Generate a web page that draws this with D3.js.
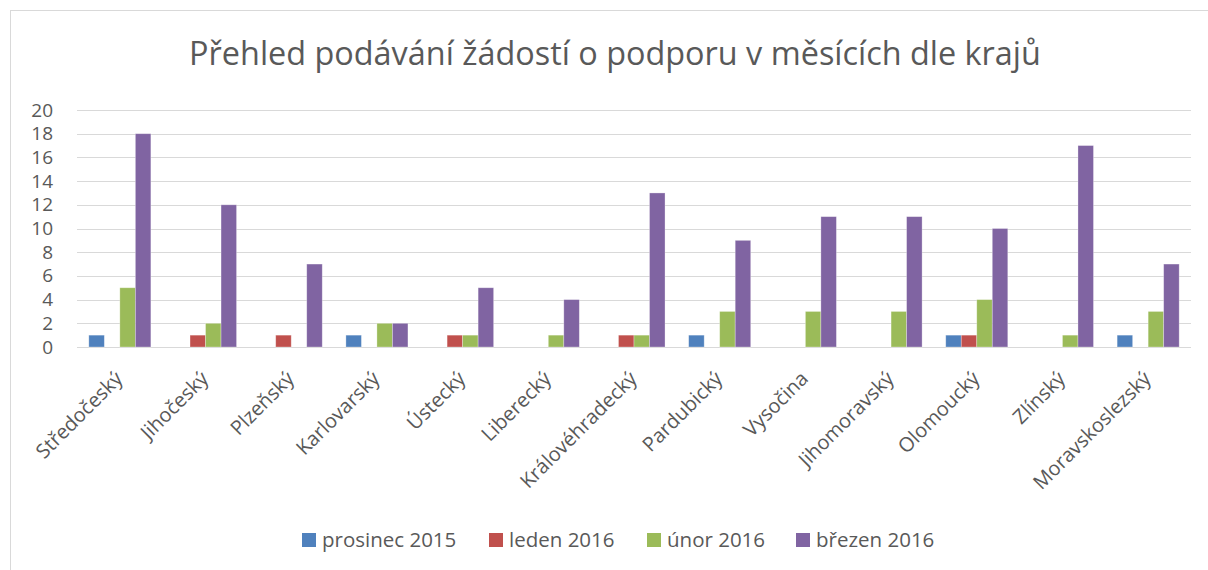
<!DOCTYPE html>
<meta charset="utf-8">
<style>
body { margin: 0; background: #fff; }
svg { display: block; }
text { font-family: "Open Sans", "Liberation Sans", sans-serif; fill: #595959; }
.grid line { stroke: #d9d9d9; stroke-width: 1px; }
</style>
<body>
<script src="https://d3js.org/d3.v7.min.js"></script>
<script>

var kraje = ["Středočeský", "Jihočeský", "Plzeňský", "Karlovarský", "Ústecký", "Liberecký",
  "Královéhradecký", "Pardubický", "Vysočina", "Jihomoravský", "Olomoucký", "Zlínský", "Moravskoslezský"];
var mesice = ["prosinec 2015", "leden 2016", "únor 2016", "březen 2016"];
var prosinec2015 = [1, 0, 0, 1, 0, 0, 0, 1, 0, 0, 1, 0, 1];
var leden2016    = [0, 1, 1, 0, 1, 0, 1, 0, 0, 0, 1, 0, 0];
var unor2016     = [5, 2, 0, 2, 1, 1, 1, 3, 3, 3, 4, 1, 3];
var brezen2016   = [18, 12, 7, 2, 5, 4, 13, 9, 11, 11, 10, 17, 7];
var yTicks = [0, 2, 4, 6, 8, 10, 12, 14, 16, 18, 20];

var series = [prosinec2015, leden2016, unor2016, brezen2016];
var colors = ["#4f81bd", "#c0504d", "#9bbb59", "#8064a2"];

var width = 1208, height = 570;
var plot = {left: 77, right: 1191, top: 110, bottom: 347};

var svg = d3.select("body").append("svg")
  .attr("width", width)
  .attr("height", height);

// chart frame (right and bottom edges fall outside the picture)
svg.append("rect")
  .attr("x", 10.5).attr("y", 10.5)
  .attr("width", width + 20).attr("height", height + 20)
  .attr("fill", "none").attr("stroke", "#d9d9d9");

svg.append("text")
  .attr("x", 615).attr("y", 65)
  .attr("text-anchor", "middle")
  .style("font-size", "32.4px")
  .text("Přehled podávání žádostí o podporu v měsících dle krajů");

var x = d3.scaleBand()
  .domain(kraje)
  .range([plot.left, plot.right])
  .paddingInner(0.276)
  .paddingOuter(0.138);

// bars touch each other inside a group
var x1 = d3.scaleBand()
  .domain(d3.range(series.length))
  .range([0, x.bandwidth()]);

var y = d3.scaleLinear()
  .domain([0, 20])
  .range([plot.bottom, plot.top]);

// gridlines
svg.append("g").attr("class", "grid")
  .selectAll("line")
  .data(yTicks)
  .enter().append("line")
  .attr("x1", plot.left).attr("x2", plot.right)
  .attr("y1", function(d) { return Math.round(y(d)) + 0.5; })
  .attr("y2", function(d) { return Math.round(y(d)) + 0.5; });

// y labels
var yAxis = svg.append("g")
  .attr("transform", "translate(" + (plot.left - 24) + ",0)")
  .call(d3.axisLeft(y).tickValues(yTicks).tickSize(0).tickPadding(0));
yAxis.select(".domain").remove();
yAxis.selectAll("text")
  .attr("fill", "#595959")
  .style("font-family", "\"Open Sans\", sans-serif")
  .style("font-size", "19px");

// bars
var groups = svg.append("g").selectAll("g")
  .data(series)
  .enter().append("g")
  .attr("fill", function(d, i) { return colors[i]; });

groups.each(function(vals, si) {
  var pts = vals.map(function(v, i) { return {kraj: kraje[i], v: v}; })
    .filter(function(d) { return d.v > 0; });
  d3.select(this).selectAll("rect")
    .data(pts)
    .enter().append("rect")
    .attr("x", function(d) { return x(d.kraj) + x1(si); })
    .attr("y", function(d) { return y(d.v); })
    .attr("width", x1.bandwidth())
    .attr("height", function(d) { return y(0) - y(d.v); })
    .attr("stroke", "#fff")
    .attr("stroke-opacity", 0.4)
    .attr("stroke-width", 0.75);
});

// rotated category labels
var cx = d3.scaleBand().domain(kraje).range([plot.left, plot.right]);
svg.append("g").selectAll("text")
  .data(kraje)
  .enter().append("text")
  .attr("transform", function(d) {
    return "translate(" + (cx(d) + cx.bandwidth() / 2 + 4) + "," + (plot.bottom + 33) + ") rotate(-45)";
  })
  .attr("text-anchor", "end")
  .style("font-size", "20px")
  .text(function(d) { return d; });

// legend
var legendX = [302, 489, 647, 796];
var legend = svg.append("g").selectAll("g")
  .data(mesice)
  .enter().append("g")
  .attr("transform", function(d, i) { return "translate(" + legendX[i] + ",533)"; });

legend.append("rect")
  .attr("width", 14).attr("height", 14)
  .attr("fill", function(d, i) { return colors[i]; });

legend.append("text")
  .attr("x", 20).attr("y", 14)
  .style("font-size", "20.5px")
  .text(function(d) { return d; });

</script>
</body>
